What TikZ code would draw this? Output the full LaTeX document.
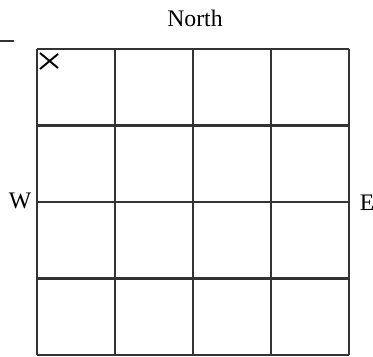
\documentclass[tikz,border=0pt]{standalone}
\usepackage{fontspec}
\setmainfont{Liberation Serif}
\usetikzlibrary{positioning}

\begin{document}
\begin{tikzpicture}[x=0.02cm, y=-0.02cm]
	\useasboundingbox (0,0) rectangle (373,357);
	\tikzset{gridline/.style={line width=1.2pt, color=black!80}}
	\tikzset{compass/.style={font=\fontsize{13.5}{15}\selectfont, inner sep=0pt}}
	%le quadrillage
	\foreach \i in {0,...,4} {
		\draw[gridline] (37+78*\i,49) -- (37+78*\i,355);
		\draw[gridline] (37,49+76.5*\i) -- (349,49+76.5*\i);
	}
	\coordinate (NW) at (37,49);
	\coordinate (NE) at (349,49);
	%les points cardinaux
	\node[compass] (north) at (195,18) {North};
	\node[compass] (west) at (20,201) {W};
	\node[compass] (east) at (367,203) {E};
	%la croix
	\draw[line width=1.1pt] (40,53) -- (58,68);
	\draw[line width=1.1pt] (58,54) -- (40,69);
	%le tiret
	\draw[line width=1pt, color=black!80] (0,41) -- (14,41);
\end{tikzpicture}
\end{document}
